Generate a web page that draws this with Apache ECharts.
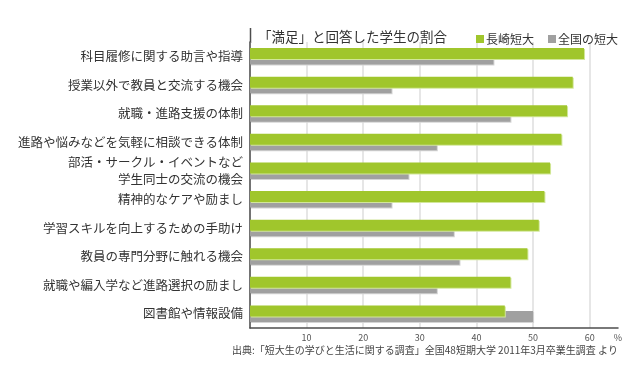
<!DOCTYPE html>
<html>
<head>
<meta charset="utf-8">
<script src="https://cdn.jsdelivr.net/npm/echarts@6/dist/echarts.min.js"></script>
<style>
  html, body { margin: 0; padding: 0; background: #fff; }
  #main { width: 643px; height: 375px; }
</style>
</head>
<body>
<div id="main"></div>
<script>
// 項目（上から順）
const items = [
  '科目履修に関する助言や指導',
  '授業以外で教員と交流する機会',
  '就職・進路支援の体制',
  '進路や悩みなどを気軽に相談できる体制',
  '部活・サークル・イベントなど\n学生同士の交流の機会',
  '精神的なケアや励まし',
  '学習スキルを向上するための手助け',
  '教員の専門分野に触れる機会',
  '就職や編入学など進路選択の励まし',
  '図書館や情報設備'
];
// 長崎短大 (%)
const nagasaki = [59, 57, 56, 55, 53, 52, 51, 49, 46, 45];
// 全国の短大 (%)
const zenkoku = [43, 25, 46, 33, 28, 25, 36, 37, 33, 50];

const font = '"Noto Sans CJK JP", "Noto Sans", sans-serif';

let myChart = echarts.init(document.getElementById('main'));
myChart.setOption({
  animation: false,
  textStyle: { fontFamily: font },
  title: {
    text: '「満足」と回答した学生の割合',
    left: 253,
    top: 25,
    textStyle: { fontSize: 13.5, fontWeight: 'normal', color: '#333', fontFamily: font }
  },
  legend: {
    data: ['長崎短大', '全国の短大'],
    left: 471,
    top: 28,
    itemWidth: 8,
    itemHeight: 8,
    itemGap: 14,
    icon: 'rect',
    textStyle: { fontSize: 12, color: '#333', padding: [0, 0, 0, -3] }
  },
  grid: { left: 250, right: 25, top: 42, bottom: 47 },
  xAxis: {
    type: 'value',
    min: 0,
    max: 65,
    interval: 10,
    axisLine: { show: true, lineStyle: { color: '#4d4d4d', width: 1.5 } },
    axisTick: { show: false },
    axisLabel: {
      fontSize: 9,
      color: '#555',
      margin: 5,
      formatter: function (v) {
        if (v === 0) return '';
        if (v === 65) return '%';
        return v;
      }
    },
    splitLine: { show: true, showMaxLine: false, lineStyle: { color: '#dedede', width: 1.5 } }
  },
  yAxis: {
    type: 'category',
    data: items,
    inverse: true,
    axisLine: { show: true, lineStyle: { color: '#4d4d4d', width: 1.5 } },
    axisTick: { show: false },
    axisLabel: { fontSize: 12.5, color: '#333', margin: 7, lineHeight: 17, align: 'right' }
  },
  series: [
    {
      name: '長崎短大',
      type: 'bar',
      data: nagasaki,
      barWidth: 11,
      barGap: '-50%',
      z: 3,
      itemStyle: {
        color: '#a0c62c',
        shadowColor: '#d2e79a',
        shadowOffsetX: 1,
        shadowOffsetY: 1
      }
    },
    {
      name: '全国の短大',
      type: 'bar',
      data: zenkoku,
      barWidth: 11,
      z: 2,
      itemStyle: {
        color: '#a0a0a0',
        shadowColor: '#d4d4d4',
        shadowOffsetX: 1,
        shadowOffsetY: 1
      }
    }
  ],
  graphic: [
    {
      type: 'line',
      shape: { x1: 250.5, y1: 28, x2: 250.5, y2: 43 },
      style: { stroke: '#4d4d4d', lineWidth: 1.5 }
    },
    {
      type: 'text',
      left: 232,
      top: 345,
      style: {
        text: '出典:「短大生の学びと生活に関する調査」全国48短期大学 2011年3月卒業生調査 より',
        font: '10px "Noto Sans CJK JP", sans-serif',
        fill: '#444'
      }
    }
  ]
});
</script>
</body>
</html>
